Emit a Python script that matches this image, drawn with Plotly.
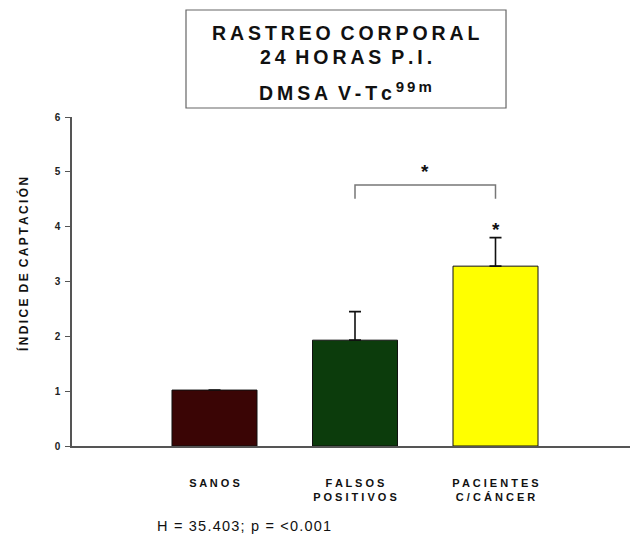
import plotly.graph_objects as go

# ---- data ----
categories = ["SANOS", "FALSOS POSITIVOS", "PACIENTES C/CÁNCER"]
values = [1.02, 1.93, 3.28]
err_plus = [0.0, 0.52, 0.52]
bar_colors = ["#3a0505", "#0c3c0c", "#ffff00"]
y_ticks = [0, 1, 2, 3, 4, 5, 6]
title_lines = ["RASTREO CORPORAL", "24 HORAS P.I.", "DMSA V-Tc"]
title_sup = "99m"
y_title = "ÍNDICE DE CAPTACIÓN"
footnote = "H = 35.403; p = <0.001"
# significance bracket between group 1 and 2
bracket_from, bracket_to = 1, 2
bracket_top, bracket_tip = 4.76, 4.51
star_bracket_y = 5.09
star_bar_y = 4.04

FONT = "Arial, Liberation Sans, sans-serif"


def spaced(s, sep=" ", wsep="\u2003"):
    return wsep.join(sep.join(list(w)) for w in s.split(" "))


tick_text = []
for c in categories:
    parts = c.split(" ")
    tick_text.append("<br>".join(spaced(p) for p in parts))

fig = go.Figure()
fig.add_trace(go.Bar(
    x=list(range(len(categories))), y=values,
    width=0.605,
    marker=dict(color=bar_colors, line=dict(color="#111111", width=1)),
    error_y=dict(type="data", symmetric=False, array=err_plus,
                 arrayminus=[0] * len(values), color="#111111",
                 thickness=1.6, width=6, visible=True),
    showlegend=False,
))

# bracket
fig.add_trace(go.Scatter(
    x=[bracket_from, bracket_from, bracket_to, bracket_to],
    y=[bracket_tip, bracket_top, bracket_top, bracket_tip],
    mode="lines", line=dict(color="#777777", width=1.5),
    showlegend=False, hoverinfo="skip",
))

annotations = []
# stars
for sx, sy in [((bracket_from + bracket_to) / 2, star_bracket_y), (bracket_to, star_bar_y)]:
    annotations.append(dict(x=sx, y=sy, xref="x", yref="y", text="<b>*</b>",
                            showarrow=False,
                            font=dict(family=FONT, size=19, color="#111111"),
                            yanchor="middle", yshift=-5))

# title box lines
TW = "\u2002"
title_y = [1.2544, 1.1833]
for t, yy in zip(title_lines[:2], title_y):
    annotations.append(dict(x=0.491, y=yy, xref="paper", yref="paper",
                            text="<b>" + spaced(t, "\u2009", TW) + "</b>",
                            showarrow=False, xanchor="center", yanchor="middle",
                            font=dict(family=FONT, size=19.5, color="#111111")))
annotations.append(dict(x=0.491, y=1.079, xref="paper", yref="paper",
                        text="<b>" + spaced(title_lines[2], "\u2009", TW) + "\u2009<sup>"
                        + "<span style='font-size:15px'>" + spaced(title_sup, "\u2009")
                        + "</span></sup></b>",
                        showarrow=False, xanchor="center", yanchor="middle",
                        font=dict(family=FONT, size=19.5, color="#111111")))

# y-axis title
annotations.append(dict(x=-0.0878, y=0.553, xref="paper", yref="paper",
                        text="<b>" + spaced(y_title, "\u2009", "\u2002") + "</b>",
                        textangle=-90, showarrow=False,
                        xanchor="center", yanchor="middle",
                        font=dict(family=FONT, size=12, color="#111111")))

# footnote
annotations.append(dict(x=0.1487, y=-0.243, xref="paper", yref="paper",
                        text="\u200a".join(list(footnote)),
                        showarrow=False, xanchor="left", yanchor="middle",
                        font=dict(family=FONT, size=14.5, color="#111111")))

shapes = [dict(type="rect", xref="paper", yref="paper",
               x0=0.2043, x1=0.7778, y0=1.0274, y1=1.3252,
               line=dict(color="#666666", width=1.2), fillcolor="rgba(0,0,0,0)")]

fig.update_layout(
    width=630, height=534,
    margin=dict(l=72, r=0, t=117, b=88, autoexpand=False),
    paper_bgcolor="white", plot_bgcolor="white",
    font=dict(family=FONT, color="#111111"),
    annotations=annotations, shapes=shapes,
    xaxis=dict(range=[-1.0142, 2.9573], tickvals=list(range(len(categories))),
               ticktext=tick_text, showgrid=False, zeroline=False,
               showline=True, linecolor="#555555", linewidth=1.5,
               ticks="", ticklabelstandoff=26, automargin=False,
               tickfont=dict(family=FONT, size=11, color="#111111", weight="bold")),
    yaxis=dict(range=[0, 6], tickvals=y_ticks, showgrid=False, zeroline=False,
               showline=True, linecolor="#555555", linewidth=1.5,
               ticks="outside", ticklen=5, tickcolor="#555555", tickwidth=1.2,
               ticklabelstandoff=3, automargin=False,
               tickfont=dict(family=FONT, size=10, color="#222222", weight="bold")),
)

fig.write_html("out.html", config={"displayModeBar": False},
               post_script="document.body.style.margin='0';")
